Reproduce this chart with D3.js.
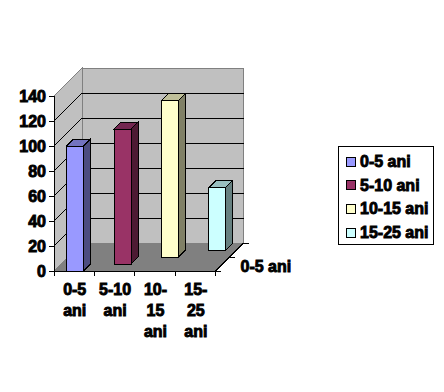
<!DOCTYPE html>
<html>
<head>
<meta charset="utf-8">
<script src="https://cdn.jsdelivr.net/npm/d3@7"></script>
<style>
    body { margin: 0; background: #fff; }
    text { font-family: "Liberation Sans", Arial, sans-serif; font-weight: bold; font-size: 16px; fill: #000; stroke: #000; stroke-width: 0.9px; }
</style>
</head>
<body>
<svg id="chart" width="444" height="392"></svg>
<script>
// Data of the chart
const categories = ["0-5 ani", "5-10 ani", "10-15 ani", "15-25 ani"];
const values = [100, 108, 125, 50];
const categoryLines = [["0-5", "ani"], ["5-10", "ani"], ["10-", "15", "ani"], ["15-", "25", "ani"]];
const depthLabels = ["0-5 ani"];
const yTicks = [0, 20, 40, 60, 80, 100, 120, 140];
const faceColors = ["#9999ff", "#993366", "#ffffcc", "#ccffff"];
const sideColors = ["#4d4d80", "#4d1a33", "#808066", "#668080"];
const topColors = ["#7373bf", "#732650", "#bfbf99", "#99bfbf"];

// Size properties of the 3d box
const plotLeft = 54, plotRight = 215.5, plotBottom = 271, plotTop = 96;
const depth = 28;
const tickLength = 5;
const lineHeight = 21;

const svg = d3.select("#chart");
const g = svg.append("g").attr("shape-rendering", "crispEdges");

const x = d3.scaleBand().domain(categories).range([plotLeft, plotRight]).paddingInner(0).paddingOuter(0);
const y = d3.scaleLinear().domain([0, 140]).range([plotBottom, plotTop]);
// every series sits in its own slot along the depth axis
const z = d3.scaleBand().domain(categories).range([0, depth]);
const barWidth = x.bandwidth() * 0.42;

const polygon = (pts, fill, stroke) => g.append("polygon")
    .attr("points", pts.map(p => p.join(",")).join(" "))
    .style("fill", fill)
    .style("stroke", stroke);

// walls and floor
polygon([[plotLeft + depth, y(140) - depth], [plotRight + depth, y(140) - depth], [plotRight + depth, plotBottom - depth], [plotLeft + depth, plotBottom - depth]], "#c0c0c0", "#808080");
polygon([[plotLeft, y(140)], [plotLeft + depth, y(140) - depth], [plotLeft + depth, plotBottom - depth], [plotLeft, plotBottom]], "#c0c0c0", "#808080");
polygon([[plotLeft, plotBottom], [plotLeft + depth, plotBottom - depth], [plotRight + depth, plotBottom - depth], [plotRight, plotBottom]], "#808080", "#808080");

// gridlines on left and back wall
const grid = g.append("g").selectAll("g")
    .data(yTicks.filter(d => d > 0 && d < 140))
    .enter().append("g");
grid.append("line")
    .attr("x1", plotLeft).attr("x2", plotLeft + depth)
    .attr("y1", d => y(d)).attr("y2", d => y(d) - depth)
    .style("stroke", "#000");
grid.append("line")
    .attr("x1", plotLeft + depth).attr("x2", plotRight + depth)
    .attr("y1", d => y(d) - depth).attr("y2", d => y(d) - depth)
    .style("stroke", "#000");

// bars, from back to front
const bars = categories.map((c, i) => ({c: c, v: values[i], i: i})).reverse();
bars.forEach(function (d) {
    const x0 = x(d.c) + (x.bandwidth() - barWidth) / 2 + z(d.c) + 1;
    const x1 = x0 + barWidth;
    const y0 = plotBottom - z(d.c);
    const y1 = y0 - (plotBottom - y(d.v));
    const dz = z.bandwidth();
    polygon([[x1, y1], [x1 + dz, y1 - dz], [x1 + dz, y0 - dz], [x1, y0]], sideColors[d.i], "#000");
    polygon([[x0, y1], [x0 + dz, y1 - dz], [x1 + dz, y1 - dz], [x1, y1]], topColors[d.i], "#000");
    polygon([[x0, y1], [x1, y1], [x1, y0], [x0, y0]], faceColors[d.i], "#000");
});

// y axis
const yAxis = svg.append("g")
    .attr("transform", "translate(" + plotLeft + ",0)")
    .call(d3.axisLeft(y).tickValues(yTicks).tickSize(tickLength).tickPadding(3).tickFormat(d3.format("d")))
    .attr("shape-rendering", "crispEdges");
yAxis.selectAll("path, line").style("stroke", "#000");
yAxis.selectAll("text").style("font-size", "16px");

// x axis, ticks sit on the band edges so they are appended by hand
const xAxis = svg.append("g")
    .attr("transform", "translate(0," + plotBottom + ")")
    .call(d3.axisBottom(x).tickSize(0).tickFormat(""))
    .attr("shape-rendering", "crispEdges");
xAxis.select("path").style("stroke", "#000");
xAxis.selectAll(".edge")
    .data(categories.concat("end"))
    .enter().append("line")
    .attr("class", "edge")
    .attr("x1", (d, i) => plotLeft + i * x.step())
    .attr("x2", (d, i) => plotLeft + i * x.step())
    .attr("y2", tickLength)
    .style("stroke", "#000");
xAxis.selectAll(".tick text").remove();
xAxis.selectAll(".tick").each(function (d, i) {
    d3.select(this).selectAll("text")
        .data(categoryLines[i])
        .enter().append("text")
        .attr("text-anchor", "middle")
        .attr("x", 0.5)
        .attr("y", (l, j) => 24 + j * lineHeight)
        .text(l => l);
});

// depth axis
const depthAxis = svg.append("g").attr("shape-rendering", "crispEdges");
depthAxis.append("line")
    .attr("x1", plotRight).attr("y1", plotBottom)
    .attr("x2", plotRight + depth).attr("y2", plotBottom - depth)
    .style("stroke", "#000");
depthAxis.selectAll(".depthTick")
    .data([0, 0.5, 1])
    .enter().append("line")
    .attr("class", "depthTick")
    .attr("x1", d => plotRight + d * depth).attr("x2", d => plotRight + d * depth + tickLength)
    .attr("y1", d => plotBottom - d * depth).attr("y2", d => plotBottom - d * depth)
    .style("stroke", "#000");
svg.append("text")
    .attr("x", plotRight + depth * 0.5 + 11)
    .attr("y", plotBottom - depth * 0.5 + 15)
    .text(depthLabels[0]);

// legend
const legend = svg.append("g").attr("transform", "translate(338,146)");
legend.append("rect")
    .attr("width", 95).attr("height", 98)
    .style("fill", "#fff").style("stroke", "#000")
    .attr("shape-rendering", "crispEdges");
const items = legend.selectAll(".item")
    .data(categories)
    .enter().append("g")
    .attr("class", "item")
    .attr("transform", (d, i) => "translate(8," + (11 + i * 23.7) + ")");
items.append("rect")
    .attr("width", 9).attr("height", 9)
    .style("fill", (d, i) => faceColors[i])
    .style("stroke", "#000")
    .attr("shape-rendering", "crispEdges");
items.append("text")
    .attr("x", 14).attr("y", 10)
    .text(d => d);
</script>
</body>
</html>
